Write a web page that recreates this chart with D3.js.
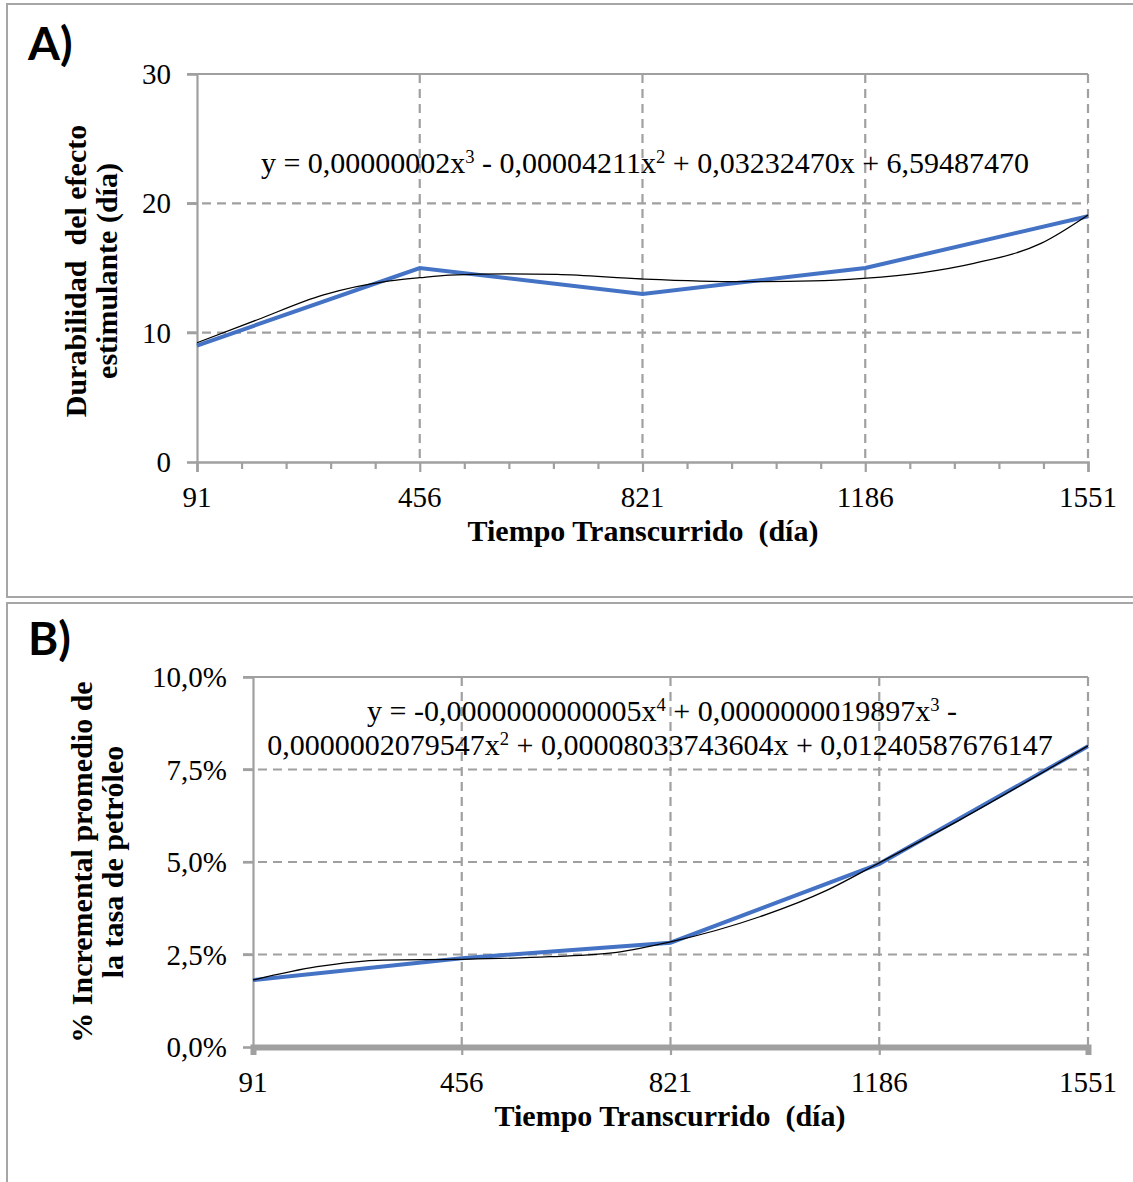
<!DOCTYPE html>
<html><head><meta charset="utf-8">
<script src="https://cdn.jsdelivr.net/npm/d3@7"></script>
<style>
html,body{margin:0;padding:0;background:#fff;}
svg{display:block;}
text{font-family:"Liberation Serif","Times New Roman",serif;fill:#000;white-space:pre;}
</style></head><body>
<svg id="c" width="1133" height="1182"></svg>
<script>
// ---- data ----
const xTicks = [91, 456, 821, 1186, 1551];
const daysA = [91, 456, 821, 1186, 1551];
const durabilidad = [9, 15, 13, 15, 19];
const fitDaysA = [91, 189, 297, 407, 456, 505, 600, 681, 821, 981, 1100, 1183, 1280, 1364, 1474, 1551];
const fitValsA = [9.22, 10.98, 12.9, 14.0, 14.25, 14.45, 14.55, 14.5, 14.15, 13.94, 14.0, 14.2, 14.65, 15.36, 16.9, 19.1];
const yTicksA = [0, 10, 20, 30];

const daysB = [91, 456, 821, 1186, 1551];
const incremental = [0.0181, 0.0240, 0.0282, 0.0495, 0.0813];
const fitDaysB = [91, 203, 319, 458, 610, 727, 821, 977, 1095, 1184, 1327, 1551];
const fitValsB = [0.0181, 0.0217, 0.0235, 0.0237, 0.0244, 0.0256, 0.0284, 0.0352, 0.0424, 0.0496, 0.0614, 0.0814];
const yTicksB = [0, 0.025, 0.05, 0.075, 0.10];

const eqA = ["y = 0,00000002x", "3", " - 0,00004211x", "2", " + 0,03232470x + 6,59487470"];
const eqB1 = ["y = -0,0000000000005x", "4", " + 0,0000000019897x", "3", " -"];
const eqB2 = ["0,0000002079547x", "2", " + 0,00008033743604x + 0,01240587676147"];
const xTitle = "Tiempo Transcurrido  (día)";
const yTitleA = ["Durabilidad  del efecto", "estimulante (día)"];
const yTitleB = ["% Incremental promedio de", "la tasa de petróleo"];

const svg = d3.select("#c");
const GRID = "#a0a0a0";
const BLUE = "#4472C4";

// panel borders
svg.append("rect").attr("x", 7).attr("y", 4).attr("width", 1140).attr("height", 593)
  .attr("fill", "none").attr("stroke", "#a6a6a6").attr("stroke-width", 2);
svg.append("rect").attr("x", 7).attr("y", 603).attr("width", 1140).attr("height", 590)
  .attr("fill", "none").attr("stroke", "#a6a6a6").attr("stroke-width", 2);

function eqText(g, parts, x, y, size) {
  const t = g.append("text").attr("x", x).attr("y", y).attr("text-anchor", "middle")
    .attr("font-size", size);
  parts.forEach((p, i) => {
    const ts = t.append("tspan").text(p);
    if (i % 2 === 1) ts.attr("baseline-shift", "super").attr("font-size", size * 0.62);
  });
  return t;
}

function panel(opt) {
  const g = svg.append("g");
  const x = d3.scaleLinear().domain([91, 1551]).range([opt.x0, opt.x1]);
  const y = d3.scaleLinear().domain(opt.yDomain).range([opt.y0, opt.y1]);

  opt.yTicks.forEach((v, i) => {
    if (i === 0) return;
    const last = i === opt.yTicks.length - 1;
    g.append("line").attr("x1", opt.x0 - 10).attr("x2", opt.x1)
      .attr("y1", y(v)).attr("y2", y(v))
      .attr("stroke", GRID).attr("stroke-width", 2.2)
      .attr("stroke-dasharray", last ? null : "9,6");
    if (!last) g.append("line").attr("x1", opt.x0 - 10).attr("x2", opt.x0)
      .attr("y1", y(v)).attr("y2", y(v)).attr("stroke", GRID).attr("stroke-width", 2.2);
  });
  xTicks.forEach((v, i) => {
    if (i === 0) return;
    g.append("line").attr("x1", x(v)).attr("x2", x(v))
      .attr("y1", opt.y1).attr("y2", opt.y0)
      .attr("stroke", GRID).attr("stroke-width", 2.2).attr("stroke-dasharray", "9,6");
  });

  const xAxis = d3.axisBottom(x).tickValues(xTicks).tickSize(opt.tickLen).tickFormat("");
  const xa = g.append("g").attr("transform", `translate(0,${opt.y0})`).call(xAxis);
  xa.select(".domain").attr("stroke", GRID).attr("stroke-width", opt.xAxisW);
  xa.selectAll(".tick line").attr("stroke", GRID).attr("stroke-width", 2.2);
  if (opt.minor) {
    const minorVals = d3.range(91, 1552, 73).filter(d => !xTicks.includes(d));
    const ma = g.append("g").attr("transform", `translate(0,${opt.y0})`)
      .call(d3.axisBottom(x).tickValues(minorVals).tickSize(7).tickFormat(""));
    ma.select(".domain").remove();
    ma.selectAll(".tick line").attr("stroke", GRID).attr("stroke-width", 2.2);
  }
  xTicks.forEach(v => {
    g.append("text").attr("x", x(v)).attr("y", opt.y0 + 45).attr("text-anchor", "middle")
      .attr("font-size", 29).text(v);
  });

  const ya = g.append("g").attr("transform", `translate(${opt.x0},0)`)
    .call(d3.axisLeft(y).tickValues(opt.yTicks).tickSize(10).tickFormat(""));
  ya.select(".domain").attr("stroke", GRID).attr("stroke-width", 2.2);
  ya.selectAll(".tick line").attr("stroke", GRID).attr("stroke-width", 2.2);
  opt.yTicks.forEach(v => {
    g.append("text").attr("x", opt.x0 - 26).attr("y", y(v) + 10).attr("text-anchor", "end")
      .attr("font-size", 29).text(opt.yFmt(v));
  });

  g.append("path").datum(opt.days.map((d, i) => [d, opt.vals[i]]))
    .attr("d", d3.line().x(d => x(d[0])).y(d => y(d[1])))
    .attr("fill", "none").attr("stroke", BLUE).attr("stroke-width", 4);
  g.append("path").datum(opt.fitDays.map((d, i) => [d, opt.fitVals[i]]))
    .attr("d", d3.line().curve(d3.curveMonotoneX).x(d => x(d[0])).y(d => y(d[1])))
    .attr("fill", "none").attr("stroke", "#000").attr("stroke-width", 1.3);

  g.append("text").attr("x", opt.xTitleX).attr("y", opt.y0 + 79).attr("text-anchor", "middle")
    .attr("font-size", 30).attr("font-weight", "bold").text(xTitle);
  opt.yTitle.forEach((s, i) => {
    g.append("text").attr("transform", `translate(${opt.yTitleX + i * 31},${opt.yTitleY}) rotate(-90)`)
      .attr("text-anchor", "middle").attr("font-size", 30).attr("font-weight", "bold").text(s);
  });
  g.append("text").attr("x", 28).attr("y", opt.labelY)
    .style("font-family", "Lato, 'Open Sans', sans-serif").attr("font-size", 46)
    .attr("font-weight", "bold").text(opt.label);
  return g;
}

const gA = panel({x0: 197, x1: 1088, y0: 462, y1: 74, yDomain: [0, 30], yTicks: yTicksA,
  yFmt: d => d, days: daysA, vals: durabilidad, fitDays: fitDaysA, fitVals: fitValsA,
  minor: true, tickLen: 10, xAxisW: 2.5, xTitleX: 643, yTitle: yTitleA, yTitleX: 86, yTitleY: 271,
  label: "A)", labelY: 60});
eqText(gA, eqA, 645, 173, 30);

const fmtB = v => d3.format(".1f")(v * 100).replace(".", ",") + "%";
const gB = panel({x0: 253, x1: 1088, y0: 1047, y1: 677, yDomain: [0, 0.10], yTicks: yTicksB,
  yFmt: fmtB, days: daysB, vals: incremental, fitDays: fitDaysB, fitVals: fitValsB,
  minor: false, tickLen: 8, xAxisW: 6, xTitleX: 670, yTitle: yTitleB, yTitleX: 92, yTitleY: 862,
  label: "B)", labelY: 655});
eqText(gB, eqB1, 662, 721, 30);
eqText(gB, eqB2, 660, 755, 30);
</script>
</body></html>
